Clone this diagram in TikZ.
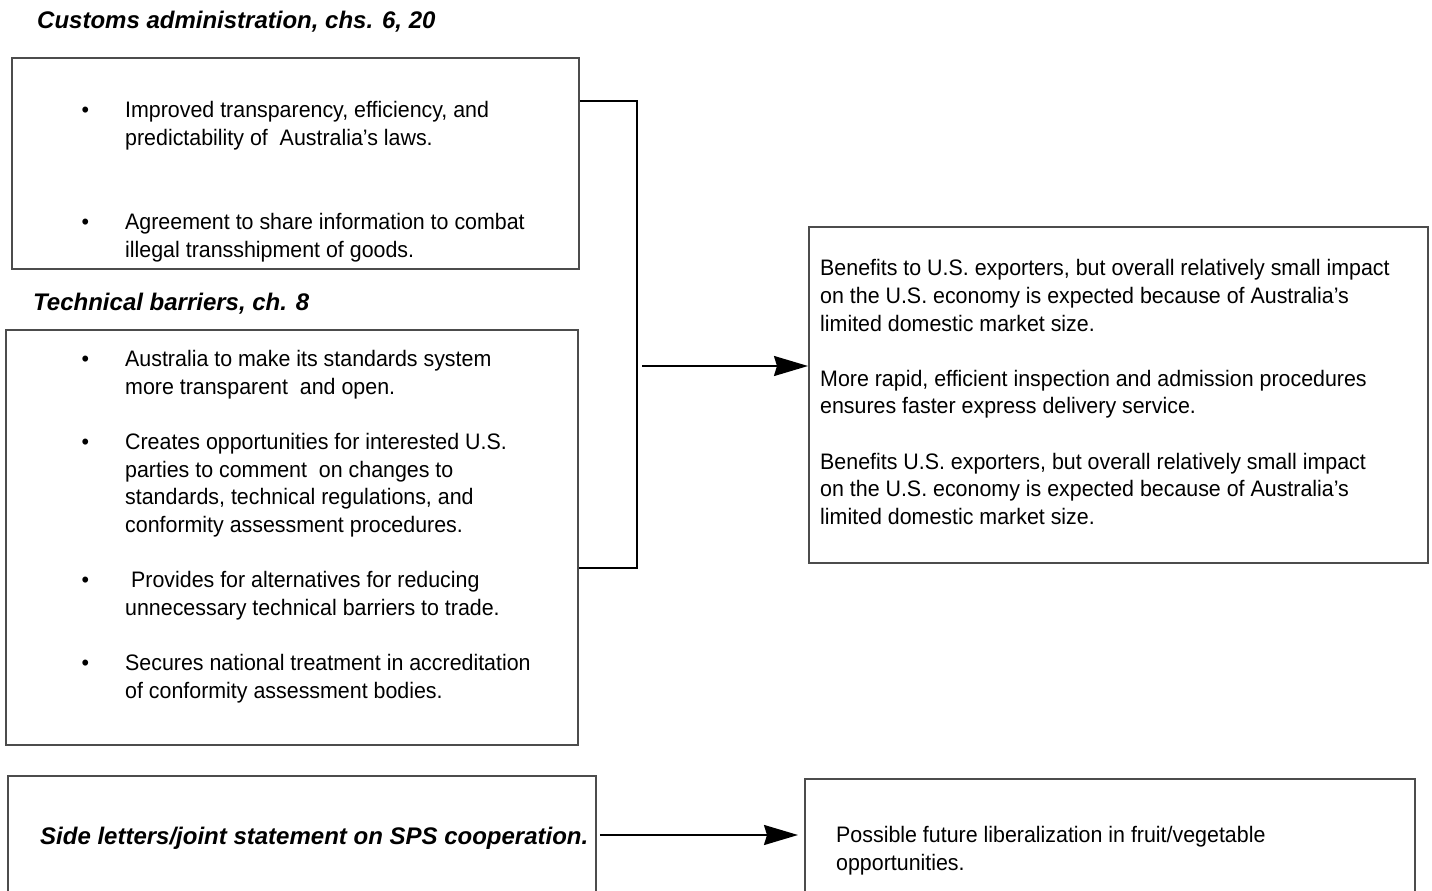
\documentclass[tikz,border=0pt]{standalone}
\usepackage{fontspec}
\setmainfont{Liberation Sans}
\newfontfamily\narrowsans[FakeStretch=0.955]{Liberation Sans}
\usetikzlibrary{arrows.meta}
\newcommand{\bul}{\llap{\textbullet\hspace{36pt}}}

\begin{document}
\begin{tikzpicture}[x=1pt,y=-1pt,
  box/.style={draw=black!70,line width=1.8pt,inner sep=0pt,anchor=north west},
  body/.style={font=\narrowsans\fontsize{22.4}{27.6}\selectfont,align=left,inner sep=0pt,anchor=north west},
  head/.style={font=\fontsize{24}{28}\selectfont\bfseries\itshape,inner sep=0pt,anchor=base west},
  joint/.style={line width=2pt},
  flow/.style={line width=2pt,-{Stealth[length=34pt,width=20pt,inset=3pt]}}]

\clip (0,0) rectangle (1432,891);
\fill [white] (0,0) rectangle (1432,891);

% headings
\node [head] (custhead) at (37,28.5) {Customs administration, chs. 6, 20};
\node [head] (techhead) at (33,310.5) {Technical barriers, ch. 8};

% boxes
\node [box,minimum width=567,minimum height=211] (custbox) at (11,57) {};
\node [box,minimum width=572,minimum height=415] (techbox) at (5,329) {};
\node [box,minimum width=619,minimum height=336] (impactbox) at (808,226) {};
\node [box,minimum width=588,minimum height=150] (spsbox) at (7,775) {};
\node [box,minimum width=610,minimum height=150] (fruitbox) at (804,778) {};

% customs
\node [body] (custtext) at (125,101.5) {\bul Improved transparency, efficiency, and\\
predictability of\ \ Australia’s laws.\\[56.4pt]
\bul Agreement to share information to combat\\
illegal transshipment of goods.};

% technical barriers
\node [body] (techtext) at (125,350.5) {\bul Australia to make its standards system\\
more transparent\ \ and open.\\[27.6pt]
\bul Creates opportunities for interested U.S.\\
parties to comment\ \ on changes to\\
standards, technical regulations, and\\
conformity assessment procedures.\\[27.6pt]
\bul\ Provides for alternatives for reducing\\
unnecessary technical barriers to trade.\\[27.6pt]
\bul Secures national treatment in accreditation\\
of conformity assessment bodies.};

% impact
\node [body] (impacttext) at (820,259.5) {Benefits to U.S. exporters, but overall relatively small impact\\
on the U.S. economy is expected because of Australia’s\\
limited domestic market size.\\[27.6pt]
More rapid, efficient inspection and admission procedures\\
ensures faster express delivery service.\\[27.6pt]
Benefits U.S. exporters, but overall relatively small impact\\
on the U.S. economy is expected because of Australia’s\\
limited domestic market size.};

% SPS
\node [head] (spstext) at (40,844) {Side letters/joint statement on SPS cooperation.};
\node [body] (fruittext) at (836,826.5) {Possible future liberalization in fruit/vegetable\\
opportunities.};

% connectors
\coordinate (join) at (637,366);
\draw [joint] ([yshift=-44pt]custbox.north east) -| (join) |- ([yshift=-239pt]techbox.north east);
\draw [flow] ([xshift=5pt]join) -- (impactbox.west |- join);
\draw [flow,shorten <=3pt,shorten >=6pt] (spsbox.east |- 0,835) -- (fruitbox.west |- 0,835);
\end{tikzpicture}
\end{document}
